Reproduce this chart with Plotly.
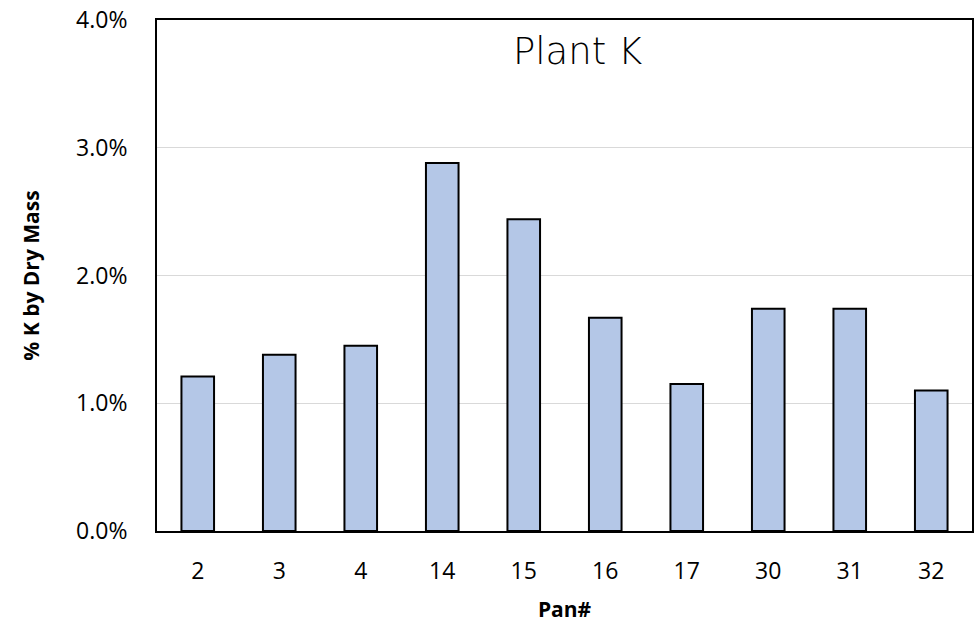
import plotly.graph_objects as go

pans = ["2", "3", "4", "14", "15", "16", "17", "30", "31", "32"]
k_pct = [0.0121, 0.0138, 0.0145, 0.0288, 0.0244, 0.0167, 0.0115, 0.0174, 0.0174, 0.0110]
y_ticks = [0, 0.01, 0.02, 0.03, 0.04]
y_tick_labels = ["0.0%", "1.0%", "2.0%", "3.0%", "4.0%"]

fig = go.Figure(go.Bar(
    x=pans, y=k_pct,
    marker=dict(color="#B4C7E7", line=dict(color="black", width=2)),
))

fig.update_layout(
    width=976, height=625,
    margin=dict(l=157, r=2, t=20, b=94),
    plot_bgcolor="white", paper_bgcolor="white",
    bargap=0.6,
    showlegend=False,
    font=dict(family="Open Sans", color="black"),
    annotations=[dict(text="Plant K", x=0.516, y=0.985, xref="paper", yref="paper",
                      xanchor="center", yanchor="top", showarrow=False,
                      font=dict(family="DejaVu Sans", size=37, color="black", weight=200))],
)
fig.update_xaxes(
    type="category",
    showline=True, linecolor="black", linewidth=2, mirror=True,
    ticks="", tickfont=dict(size=23), ticklabelstandoff=18,
    title=dict(text="<b>Pan#</b>", font=dict(size=21), standoff=18),
)
fig.update_yaxes(
    range=[0, 0.04], tickvals=y_ticks, ticktext=y_tick_labels,
    showline=True, linecolor="black", linewidth=2, mirror=True,
    showgrid=True, gridcolor="#D9D9D9", gridwidth=1,
    ticks="", tickfont=dict(size=23), ticklabelstandoff=23,
    title=dict(text="<b>% K by Dry Mass</b>", font=dict(size=21), standoff=31),
    zeroline=False,
)

fig.write_html("out.html")
